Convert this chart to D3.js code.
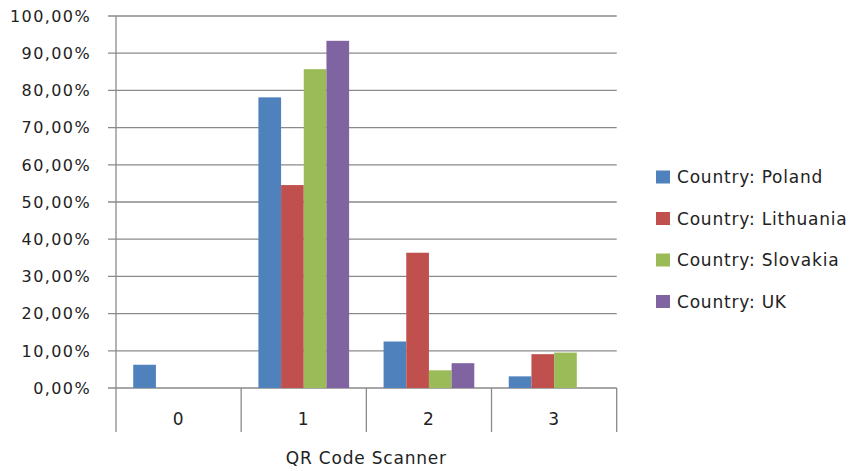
<!DOCTYPE html>
<html><head><meta charset="utf-8">
<script src="https://cdn.jsdelivr.net/npm/d3@7"></script>
<style>
body{margin:0;background:#fff;}
text{font-family:"DejaVu Sans",sans-serif;fill:#222;}
</style></head>
<body><svg id="c" width="854" height="471"></svg>
<script>
const categories = ["0","1","2","3"];
const seriesNames = ["Country: Poland","Country: Lithuania","Country: Slovakia","Country: UK"];
const poland = [6.25, 78.13, 12.5, 3.13];
const lithuania = [0, 54.55, 36.36, 9.09];
const slovakia = [0, 85.71, 4.76, 9.52];
const uk = [0, 93.33, 6.67, 0];
const colors = ["#4F81BD","#C0504D","#9BBB59","#8064A2"];
const yTicks = [0,10,20,30,40,50,60,70,80,90,100];
const xTitle = "QR Code Scanner";

const series = [poland, lithuania, slovakia, uk];
const svg = d3.select("#c");
const L=116, R=616.7, T=16, B=388, AX=432;
const x = d3.scaleBand().domain(categories).range([L,R]).paddingInner(0).paddingOuter(0);
const xs = d3.scaleBand().domain(d3.range(4)).range([0,x.bandwidth()]).paddingOuter(0.76).paddingInner(0);
const y = d3.scaleLinear().domain([0,100]).range([B,T]);
const grid="#8a8a8a";

// gridlines
svg.append("g").selectAll("line").data(yTicks).join("line")
  .attr("x1",L-8).attr("x2",R).attr("y1",d=>y(d)).attr("y2",d=>y(d))
  .attr("stroke",grid).attr("stroke-width",1.3);
// y axis line
svg.append("line").attr("x1",L).attr("x2",L).attr("y1",T).attr("y2",AX).attr("stroke",grid).attr("stroke-width",1.3);
// category separators
svg.append("g").selectAll("line").data(categories).join("line")
  .attr("x1",d=>x(d)+x.bandwidth()).attr("x2",d=>x(d)+x.bandwidth())
  .attr("y1",B).attr("y2",AX).attr("stroke",grid).attr("stroke-width",1.3);

// bars
series.forEach((s,si)=>{
  svg.append("g").selectAll("rect").data(s).join("rect")
    .attr("x",(d,i)=>x(categories[i])+xs(si))
    .attr("width",xs.bandwidth())
    .attr("y",d=>y(d)).attr("height",d=>B-y(d))
    .attr("fill",colors[si]);
});

// y labels
svg.append("g").selectAll("text").data(yTicks).join("text")
  .attr("x",91).attr("y",d=>y(d)).attr("dy","0.36em").attr("text-anchor","end")
  .style("font-size","16px").style("letter-spacing","1.4px")
  .text(d=>d.toFixed(2).replace(".",",")+"%");
// x labels
svg.append("g").selectAll("text").data(categories).join("text")
  .attr("x",d=>x(d)+x.bandwidth()/2).attr("y",419).attr("dy","0.36em").attr("text-anchor","middle")
  .style("font-size","17px").style("letter-spacing","1px").text(d=>d);
svg.append("text").attr("x",(L+R)/2).attr("y",458).attr("dy","0.36em").attr("text-anchor","middle")
  .style("font-size","17px").style("letter-spacing","0.8px").text(xTitle);

// legend
const lg = svg.append("g").selectAll("g").data(seriesNames).join("g")
  .attr("transform",(d,i)=>`translate(656,${177+i*41.5})`);
lg.append("rect").attr("x",0).attr("y",-6.5).attr("width",14).attr("height",13).attr("fill",(d,i)=>colors[i]);
lg.append("text").attr("x",21).attr("y",0).attr("dy","0.36em")
  .style("font-size","17px").style("letter-spacing","0.8px").text(d=>d);
</script></body></html>
